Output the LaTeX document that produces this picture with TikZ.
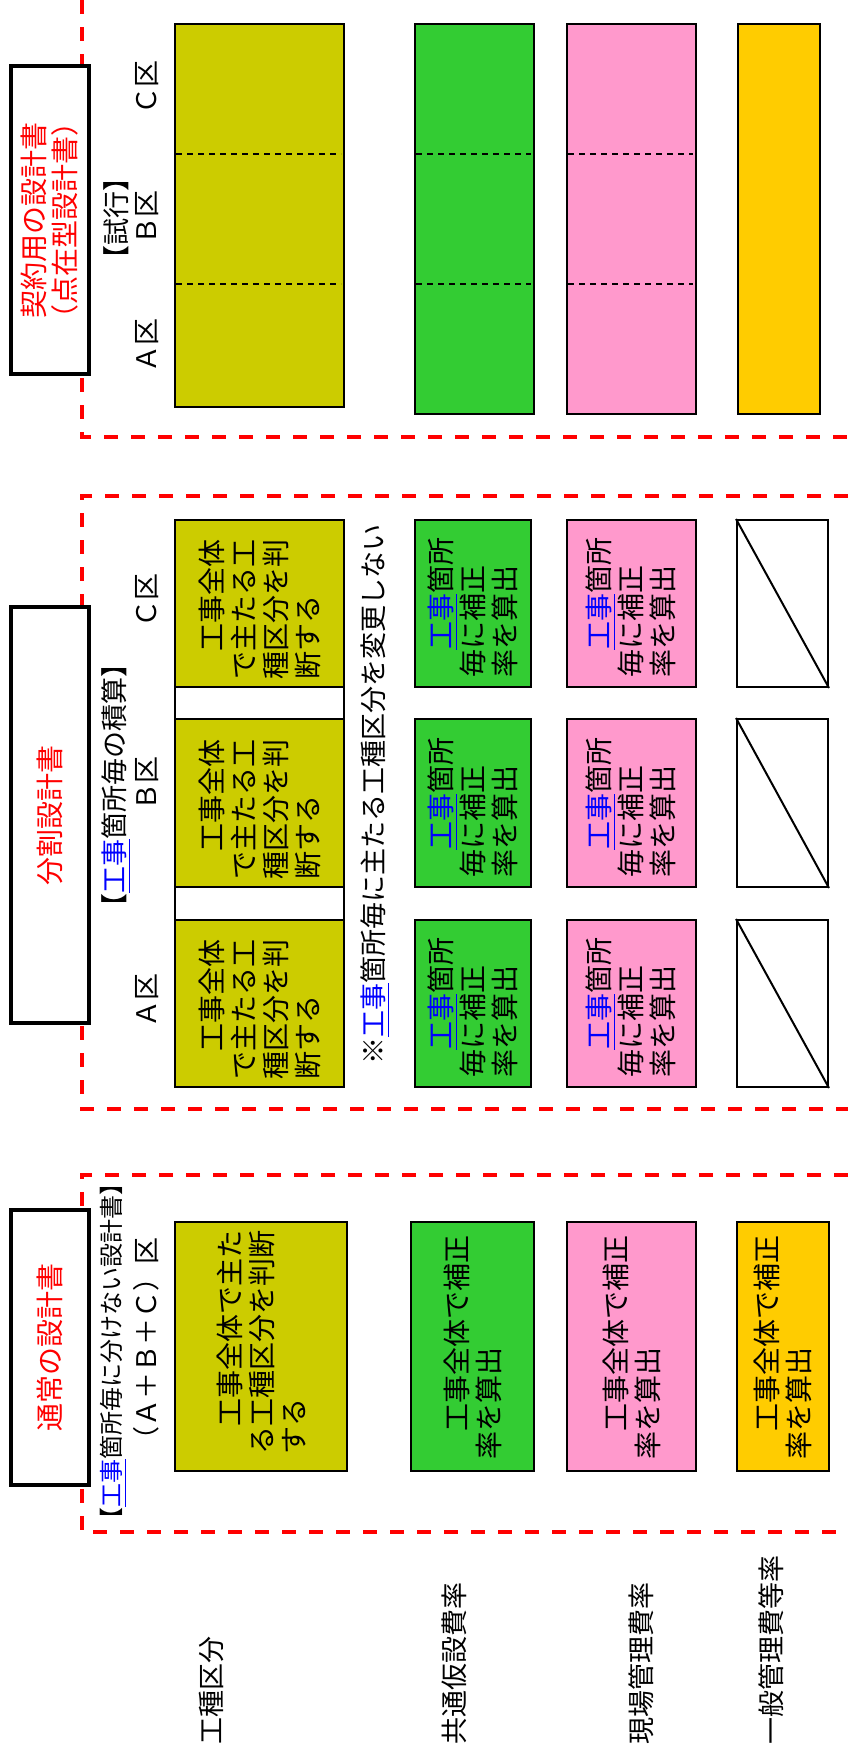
\documentclass[tikz,border=0pt]{standalone}
\usepackage{fontspec}
\setmainfont{Noto Sans CJK JP}
\usetikzlibrary{fit}
\definecolor{olv}{RGB}{204,204,0}
\definecolor{grn}{RGB}{51,204,51}
\definecolor{pnk}{RGB}{255,153,204}
\definecolor{gld}{RGB}{255,204,0}
\definecolor{lnk}{RGB}{0,0,255}
\newcommand{\kouji}{{\color{lnk}\underline{工事}}}
\begin{document}
\begin{tikzpicture}[x=0.5pt,y=-0.5pt,
  redline/.style={draw=red, line width=2pt, dash pattern=on 7pt off 6.5pt},
  titlebox/.style={draw=black, line width=2.2pt, fill=white, inner sep=0pt},
  cell/.style={draw=black, line width=1pt, inner sep=0pt},
  divider/.style={draw=black, line width=0.8pt, dash pattern=on 3pt off 2.5pt},
  btxt/.style={rotate=90, anchor=west, align=left, inner sep=0pt, font=\fontsize{14}{16}\selectfont},
  lbl/.style={rotate=90, inner sep=0pt, font=\fontsize{13.5}{15}\selectfont},
  rlbl/.style={rotate=90, anchor=west, inner sep=0pt, font=\fontsize{13.5}{15}\selectfont},
  ttl/.style={rotate=90, align=center, inner sep=0pt, text=red, font=\fontsize{14}{15.5}\selectfont},
]
\useasboundingbox (0,0) rectangle (848,1756);

% red dashed frames
\draw[redline] (82,0) -- (82,437) -- (848,437);
\draw[redline] (848,496) -- (82,496) -- (82,1109) -- (848,1109);
\draw[redline] (848,1175) -- (82,1175) -- (82,1532) -- (848,1532);

% title boxes
\node[titlebox, fit={(11,66) (89,374)}] (tb1) {};
\node[ttl] (tt1) at (tb1.center) {契約用の設計書\\（点在型設計書）};
\node[titlebox, fit={(11,607) (89,1023)}] (tb2) {};
\node[ttl] (tt2) at (tb2.center) {分割設計書};
\node[titlebox, fit={(11,1210) (89,1485)}] (tb3) {};
\node[ttl] (tt3) at (tb3.center) {通常の設計書};

% ---------- top section ----------
\node[lbl] (shikou) at (116,218) {【試行】};
\node[lbl] (tA) at (147,345) {Ａ区};
\node[lbl] (tB) at (147,217) {Ｂ区};
\node[lbl] (tC) at (147,87) {Ｃ区};
\node[cell, fill=olv, fit={(175,24) (344,407)}] (t1) {};
\node[cell, fill=grn, fit={(415,24) (534,414)}] (t2) {};
\node[cell, fill=pnk, fit={(567,24) (696,414)}] (t3) {};
\node[cell, fill=gld, fit={(738,24) (820,414)}] (t4) {};
\coordinate (d1) at (0,154);
\coordinate (d2) at (0,284);
\foreach \b in {t1,t2,t3}{
  \draw[divider] ([xshift=1pt]\b.west |- d1) -- ([xshift=-2pt]\b.east |- d1);
  \draw[divider] ([xshift=1pt]\b.west |- d2) -- ([xshift=-2pt]\b.east |- d2);
}

% ---------- middle section ----------
\node[lbl] (sekisan) at (116,785) {【\kouji 箇所毎の積算】};
\node[lbl] (mA) at (147,1000) {Ａ区};
\node[lbl] (mB) at (147,783) {Ｂ区};
\node[lbl] (mC) at (147,600) {Ｃ区};
\node[lbl] (note) at (375,794) {※\kouji 箇所毎に主たる工種区分を変更しない};

\node[cell, fill=white, fit={(175,520) (344,1087)}] (mo) {};
\node[cell, fill=olv, fit={(175,520) (344,687)}] (moC) {};
\node[cell, fill=olv, fit={(175,719) (344,887)}] (moB) {};
\node[cell, fill=olv, fit={(175,920) (344,1087)}] (moA) {};
\foreach \n/\t/\bt in {C/520/687,B/719/887,A/920/1087}{
  \node[btxt] (moT\n) at (260,\bt-7) {　工事全体\\で主たる工\\種区分を判\\断する};
  \node[cell, fill=grn, fit={(415,\t) (531,\bt)}] (mg\n) {};
  \node[btxt] (mgT\n) at (473,\bt-9) {　\kouji 箇所\\毎に補正\\率を算出};
  \node[cell, fill=pnk, fit={(567,\t) (696,\bt)}] (mp\n) {};
  \node[btxt] (mpT\n) at (631,\bt-9) {　\kouji 箇所\\毎に補正\\率を算出};
  \node[cell, fill=white, fit={(737,\t) (828,\bt)}] (mw\n) {};
  \draw[line width=1pt] (mw\n.north west) -- (mw\n.south east);
}

% ---------- bottom section ----------
\node[rotate=90, inner sep=0pt, align=center, font=\fontsize{12}{15}\selectfont] (futsu1) at (113,1351) {【\kouji 箇所毎に分けない設計書】};
\node[lbl] (futsu2) at (146,1345) {（Ａ＋Ｂ＋Ｃ）区};
\node[cell, fill=olv, fit={(175,1222) (347,1471)}] (bo) {};
\node[btxt] (boT) at (bo.south |- 0,1455) {　工事全体で主た\\る工種区分を判断\\する};
\node[cell, fill=grn, fit={(411,1222) (534,1471)}] (bg) {};
\node[btxt] (bgT) at (bg.south |- 0,1460) {　工事全体で補正\\率を算出};
\node[cell, fill=pnk, fit={(567,1222) (696,1471)}] (bp) {};
\node[btxt] (bpT) at (bp.south |- 0,1460) {　工事全体で補正\\率を算出};
\node[cell, fill=gld, fit={(737,1222) (829,1471)}] (by) {};
\node[btxt] (byT) at (by.south |- 0,1460) {　工事全体で補正\\率を算出};

% ---------- row labels ----------
\node[rlbl] (r1) at (211,1745) {工種区分};
\node[rlbl] (r2) at (454,1745) {共通仮設費率};
\node[rlbl] (r3) at (641,1745) {現場管理費率};
\node[rlbl] (r4) at (771,1745) {一般管理費等率};
\end{tikzpicture}
\end{document}
